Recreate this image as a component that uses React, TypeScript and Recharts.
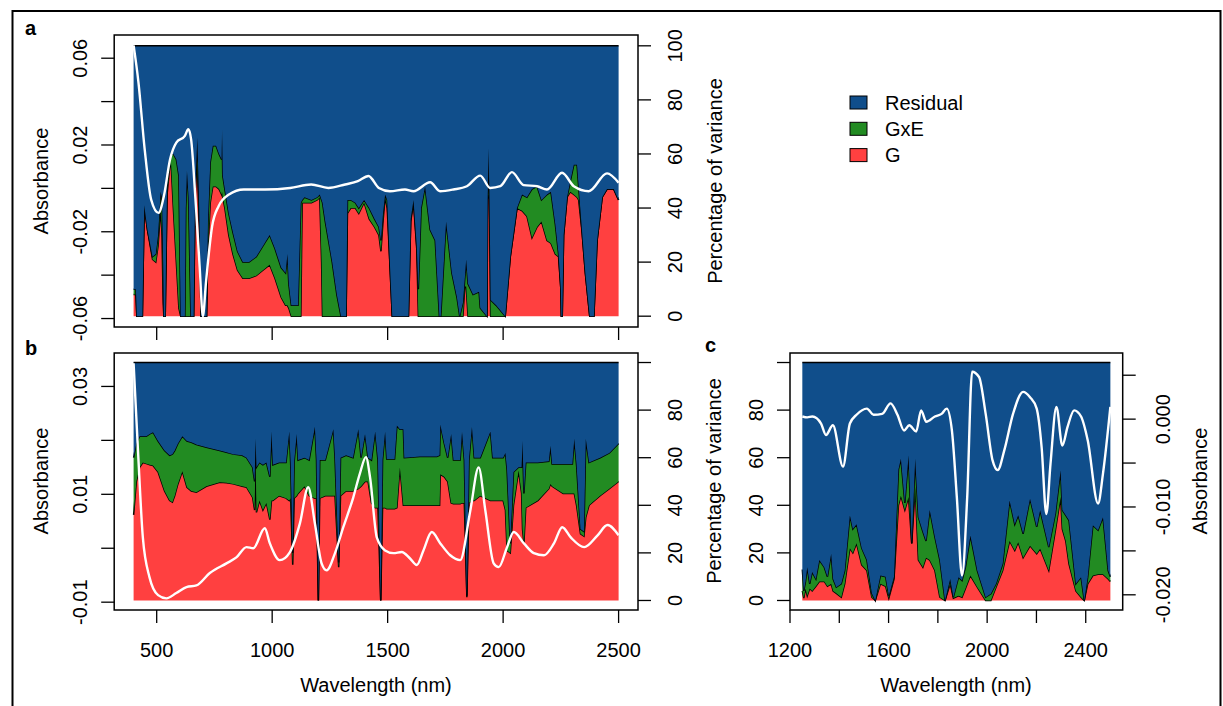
import { Area, ComposedChart, Line, ReferenceArea, XAxis, YAxis } from 'recharts';

const FONT = '"Liberation Sans", Arial, Helvetica, sans-serif';
const RED = '#FF4040';
const GREEN = '#228B22';
const BLUE = '#104E8B';

// ---- panel a: 400-2500 nm, variance partition (%) ----
const aWl = [
	400, 410, 414, 438, 446, 460, 482, 496, 506, 517,
	523, 528, 531, 537, 545, 556, 562, 572, 585, 596,
	604, 622, 626, 631, 638, 648, 660, 666, 673, 676,
	684, 692, 716, 722, 732, 743, 757, 770, 781, 783,
	786, 795, 812, 830, 850, 873, 900, 931, 960, 989,
	1012, 1039, 1058, 1066, 1072, 1083, 1112, 1124, 1130, 1140,
	1170, 1195, 1206, 1214, 1218, 1230, 1260, 1280, 1298, 1320,
	1326, 1340, 1360, 1375, 1398, 1420, 1443, 1462, 1471, 1480,
	1489, 1498, 1512, 1520, 1590, 1600, 1612, 1626, 1633, 1645,
	1662, 1684, 1706, 1724, 1730, 1753, 1778, 1800, 1812, 1826,
	1834, 1840, 1848, 1870, 1896, 1901, 1930, 1933, 1937, 1941,
	1946, 1970, 2009, 2031, 2060, 2082, 2103, 2125, 2147, 2166,
	2190, 2207, 2226, 2240, 2250, 2252, 2256, 2262, 2277, 2291,
	2306, 2320, 2327, 2342, 2356, 2375, 2393, 2407, 2429, 2450,
	2479, 2500,
];
const aG = [
	8, 8, 0, 0, 41, 32, 21, 20, 26, 40,
	30, 5, 0, 0, 45, 55, 57, 40, 20, 3,
	0, 0, 0, 0, 0, 0, 0, 40, 59, 55,
	35, 0, 0, 25, 42, 48, 48, 47, 45, 46,
	44, 40, 30, 23, 17, 14, 14, 15, 17, 19,
	14, 7, 4, 4, 3, 0, 0, 0, 42, 42,
	42, 43, 44, 20, 0, 0, 0, 0, 0, 0,
	38, 40, 40, 38, 42, 36, 33, 30, 24, 35,
	44, 40, 15, 0, 0, 35, 42, 25, 0, 0,
	0, 0, 0, 0, 0, 0, 0, 0, 0, 0,
	11, 11, 0, 0, 0, 0, 0, 43, 45, 44,
	0, 0, 0, 22, 40, 39, 37, 29, 33, 35,
	28, 27, 23, 22, 10, 0, 0, 30, 44, 46,
	45, 44, 43, 31, 16, 0, 0, 28, 44, 47,
	47, 43,
];
const aGxE = [
	2, 2, 0, 0, 0, 0, 1, 3, 4, 6,
	14, 15, 0, 0, 3, 3, 3, 20, 38, 49,
	0, 0, 40, 54, 44, 0, 0, 5, 1, 11,
	5, 0, 0, 10, 15, 15, 15, 13, 13, 23,
	8, 7, 8, 8, 7, 6, 6, 7, 9, 11,
	11, 11, 12, 19, 9, 4, 4, 42, 1, 2,
	1, 1, 1, 23, 42, 35, 20, 8, 0, 0,
	5, 3, 2, 2, 1, 4, 3, 3, 4, 3,
	1, 3, 0, 0, 0, 1, 1, 1, 10, 40,
	48, 32, 28, 0, 0, 35, 16, 7, 0, 5,
	3, 10, 12, 8, 9, 3, 0, 0, 17, 0,
	6, 4, 0, 0, 0, 6, 7, 18, 15, 8,
	17, 19, 11, 1, 0, 0, 0, 0, 0, 4,
	11, 12, 5, 0, 0, 0, 0, 0, 0, 0,
	0, 0,
];
const aAbsWl = [
	400, 421, 448, 476, 508, 531, 558, 585, 622, 637,
	649, 668, 686, 700, 713, 740, 768, 813, 877, 969,
	1078, 1169, 1243, 1316, 1371, 1417, 1462, 1510, 1575, 1612,
	1684, 1727, 1785, 1843, 1901, 1944, 1988, 2038, 2089, 2147,
	2190, 2255, 2306, 2371, 2450, 2500,
];
const aAbs = [
	0.0659, 0.0489, 0.018, -0.0052, -0.0113, -0.0036, 0.0134, 0.0211, 0.0242, 0.0273,
	0.0226, -0.0052, -0.036, -0.059, -0.0438, -0.0175, -0.0082, -0.0028, -0.0005, -0.0005,
	0.0002, 0.0018, 0.0002, 0.0018, 0.0033, 0.0057, 0.0002, -0.0013, -0.0005, -0.0013,
	0.0028, -0.0013, -0.0005, 0.001, 0.0059, 0.0002, 0.001, 0.0075, 0.0015, 0.001,
	-0.0005, 0.0072, 0.001, -0.0013, 0.0069, 0.0026,
];

// ---- panel b: 400-2500 nm ----
const bWl = [
	400, 412, 426, 440, 455, 470, 484, 506, 520, 534,
	556, 568, 578, 592, 611, 631, 650, 672, 715, 773,
	802, 831, 870, 889, 915, 924, 928, 932, 945, 960,
	975, 990, 997, 1003, 1030, 1060, 1074, 1080, 1089, 1095,
	1106, 1112, 1140, 1160, 1185, 1192, 1200, 1206, 1230, 1265,
	1272, 1288, 1296, 1320, 1350, 1373, 1385, 1402, 1415, 1430,
	1446, 1458, 1470, 1478, 1489, 1496, 1530, 1540, 1553, 1568,
	1572, 1640, 1713, 1725, 1728, 1745, 1760, 1775, 1785, 1814,
	1822, 1832, 1843, 1852, 1865, 1875, 1901, 1945, 1955, 2000,
	2010, 2017, 2031, 2045, 2067, 2080, 2084, 2090, 2098, 2150,
	2198, 2205, 2212, 2260, 2300, 2308, 2318, 2335, 2350, 2358,
	2372, 2420, 2460, 2500,
];
const bG = [
	36, 50, 56, 58, 57.5, 57, 56.7, 54, 50, 46,
	42, 41.3, 44, 49, 54.3, 47.6, 46, 45.5, 48, 49.7,
	49.5, 49, 48, 47.6, 43.4, 38, 62, 37, 42, 38,
	41, 34, 42, 42, 44, 43, 42, 43, 15, 43,
	44, 45, 48, 44, 43, 43, 0, 43, 44, 44,
	44, 14, 44, 46, 46, 47, 48, 50, 50, 41,
	39, 39, 0, 39, 39, 38.5, 38.5, 39, 56, 40,
	40, 40, 40, 40, 53, 52, 50, 41, 40.6, 40.6,
	41, 41, 1.4, 41, 42, 42, 44, 42, 42, 42,
	38, 21, 20, 40, 54.6, 45, 30, 24, 39, 42,
	47, 49, 48, 45, 45, 45, 40, 28, 27, 35,
	40, 44, 47, 50,
];
const bGxE = [
	24, 16, 13, 11, 11.5, 13, 14, 13, 15, 17,
	19, 20.2, 19, 17, 14.7, 19.4, 20.5, 20, 16.4, 13.3,
	12.8, 12.5, 13, 12.4, 12.6, 12, 6, 19, 16, 19,
	17, 18, 29, 15, 14, 15, 29, 15, 5, 15,
	26, 14, 12, 15, 30, 16, 0, 16, 15, 28,
	16, 2, 16, 15, 14, 25, 12, 20, 10, 18,
	32, 20, 0, 20, 32, 21, 21, 34.5, 16, 32,
	20, 20.5, 20.5, 21, 21, 14, 10, 29, 18.4, 18.4,
	30, 18, 0.6, 18, 31, 18, 16, 29, 18, 18,
	24, 34, 4, 14, 1.4, 11, 37, 21, 19, 16,
	11.5, 16, 9.4, 12.4, 12.4, 23, 17, 2, 2, 33,
	18, 16, 15, 16,
];
const bAbsWl = [
	400, 419, 440, 469, 506, 542, 585, 629, 672, 730,
	802, 845, 889, 918, 968, 990, 1033, 1077, 1120, 1156,
	1185, 1214, 1236, 1272, 1308, 1351, 1380, 1406, 1424, 1453,
	1489, 1525, 1561, 1597, 1626, 1655, 1691, 1728, 1771, 1814,
	1858, 1894, 1923, 1959, 1981, 2017, 2046, 2090, 2133, 2177,
	2220, 2256, 2293, 2351, 2409, 2452, 2500,
];
const bAbs = [
	0.0343, 0.0181, 0.002, -0.0054, -0.0087, -0.0093, -0.0083, -0.0072, -0.0069, -0.0046,
	-0.0028, -0.0017, 0.0002, 0, 0.0037, 0.0009, -0.0022, -0.0007, 0.0046, 0.0113,
	0.0046, -0.0028, -0.0041, -0.0009, 0.0039, 0.0094, 0.0139, 0.0169, 0.0131, 0.002,
	-0.0004, -0.0009, -0.0007, -0.0019, -0.0031, -0.0004, 0.003, 0.0009, -0.0013, -0.0022,
	0.007, 0.015, 0.007, -0.0028, -0.0035, 0.0002, 0.003, 0.0009, -0.0009, -0.0013,
	0.0009, 0.0039, 0.002, 0.0002, 0.0024, 0.0043, 0.0024,
];

// ---- panel c: 1250-2500 nm ----
const cWl = [
	1250, 1256, 1263, 1270, 1280, 1290, 1305, 1319, 1339, 1352,
	1367, 1375, 1388, 1408, 1422, 1443, 1455, 1470, 1491, 1512,
	1532, 1546, 1567, 1588, 1601, 1622, 1640, 1650, 1666, 1681,
	1694, 1708, 1721, 1739, 1752, 1767, 1788, 1808, 1829, 1850,
	1863, 1884, 1898, 1912, 1932, 1960, 1994, 2015, 2036, 2063,
	2091, 2112, 2126, 2146, 2174, 2201, 2215, 2250, 2277, 2298,
	2305, 2319, 2332, 2360, 2381, 2394, 2408, 2429, 2450, 2470,
	2491, 2500,
];
const cG = [
	4, 1, 5, 2, 5, 4, 6, 8, 8, 6,
	7, 4, 3, 1.4, 7, 22, 20, 24, 15, 12.6,
	1.4, 0, 7, 6, 1, 9, 40, 44, 38, 43.5,
	24, 47.7, 17, 14, 18, 17, 12.6, 1.4, 0, 7,
	1, 2, 1.4, 5, 10.5, 5.6, 0, 0, 5.6, 12.6,
	25, 21, 24.5, 18, 23, 19.6, 21.7, 12.6, 29.5, 43.5,
	30, 25, 15.4, 4, 1.4, 0, 7, 10.5, 11, 11,
	9, 8,
];
const cGxE = [
	9, 3, 3, 12, 2, 8, 3, 9, 6, 4,
	12.6, 5, 2.6, 5.6, 5.6, 13.8, 10, 8, 7, 4.4,
	1.6, 0, 3.5, 4, 1, 1, 15, 15.6, 3, 17.5,
	0, 11.9, 18, 15, 7, 21, 14, 15.6, 0, 2,
	0.4, 7.8, 7, 9, 16.8, 7, 1.4, 2.8, 1.4, 2.8,
	17, 11, 11.3, 10, 19.8, 11.3, 16.2, 9.8, 7, 11.2,
	8, 10.8, 18.3, 3, 8.4, 0, 2.8, 21.1, 18.5, 24,
	3.6, 2,
];
const cAbsWl = [
	1250, 1270, 1291, 1326, 1346, 1374, 1415, 1443, 1470, 1512,
	1539, 1574, 1608, 1636, 1663, 1684, 1712, 1732, 1753, 1788,
	1815, 1836, 1857, 1877, 1898, 1919, 1939, 1967, 1994, 2022,
	2043, 2070, 2105, 2146, 2174, 2201, 2221, 2240, 2257, 2281,
	2305, 2326, 2353, 2381, 2408, 2450, 2470, 2500,
];
const cAbs = [
	0.0003, 0.0002, 0.0003, -0.0005, -0.0018, -0.0007, -0.0054, -0.0005, 0.0005, 0.0012,
	0.0005, 0.0006, 0.0018, 0.0005, -0.0013, -0.0007, -0.0014, 0.001, -0.0003, 0.0003,
	0.0006, 0.0012, -0.0013, -0.0089, -0.0178, -0.0089, 0.0054, 0.0048, 0.0006, -0.0047,
	-0.0058, -0.0035, 0.0006, 0.0031, 0.0025, 0.0012, -0.0032, -0.0108, -0.0051, 0.0014,
	-0.003, -0.0009, 0.001, 0.0003, -0.0024, -0.0096, -0.0062, 0.0014,
];

const pctTicks = [0, 20, 40, 60, 80, 100];
const wideTicks = [500, 1000, 1500, 2000, 2500];
const swirTicks = [1200, 1400, 1600, 1800, 2000, 2200, 2400];
const swirLabels = [1200, 1600, 2000, 2400];

const LEGEND = [
	{ name: 'Residual', color: BLUE },
	{ name: 'GxE', color: GREEN },
	{ name: 'G', color: RED },
];

// residual is whatever G and GxE leave of the 100 %
const toRows = (wl: number[], g: number[], gxe: number[]) =>
	wl.map((w, i) => ({ wl: w, G: g[i], GxE: gxe[i], Residual: 100 - g[i] - gxe[i] }));
const toAbs = (wl: number[], abs: number[]) => wl.map((w, i) => ({ wl: w, abs: abs[i] }));

const has = (list: number[], v: number) => list.some((l) => Math.abs(l - v) < 1e-9);

// R draws y labels parallel to the axis (rotated)
const vTick = (labels: number[], digits: number, dx: number) => (p: any) => {
	const v = p.payload.value;
	if (!has(labels, v)) return <g />;
	const x = p.x + dx;
	return (
		<text x={x} y={p.y} transform={`rotate(-90 ${x} ${p.y})`} textAnchor="middle" fontSize={20} fontFamily={FONT} fill="#000">
			{v.toFixed(digits)}
		</text>
	);
};

const hTick = (labels: number[]) => (p: any) => {
	const v = p.payload.value;
	if (!has(labels, v)) return <g />;
	return (
		<text x={p.x} y={p.y + 34} textAnchor="middle" fontSize={20} fontFamily={FONT} fill="#000">
			{v}
		</text>
	);
};

type PanelProps = {
	rows: ReturnType<typeof toRows>;
	absRows: ReturnType<typeof toAbs>;
	left: number;
	top: number;
	width: number;
	height: number;
	margin: { top: number; right: number; bottom: number; left: number };
	leftW: number;
	rightW: number;
	xH: number;
	xDomain: [number, number];
	xTicks: number[];
	xLabels: number[];
	absSide: 'left' | 'right';
	absDomain: [number, number];
	absTicks: number[];
	absLabels: number[];
	absDigits: number;
	pctLabels: number[];
	leftDx: number;
	rightDx: number;
};

const tickLine = { stroke: '#000', strokeWidth: 1.3 };

const Panel = (p: PanelProps) => {
	const absLeft = p.absSide === 'left';
	return (
		<div style={{ position: 'absolute', left: p.left, top: p.top }}>
			<ComposedChart width={p.width} height={p.height} data={p.rows} margin={p.margin}>
				<XAxis
					dataKey="wl"
					type="number"
					domain={p.xDomain}
					ticks={p.xTicks}
					interval={0}
					allowDataOverflow
					axisLine={false}
					tickLine={tickLine}
					tickSize={13}
					tickMargin={0}
					height={p.xH}
					tick={hTick(p.xLabels)}
				/>
				<YAxis
					yAxisId={absLeft ? 'abs' : 'pct'}
					orientation="left"
					type="number"
					width={p.leftW}
					domain={absLeft ? p.absDomain : [-4, 104]}
					ticks={absLeft ? p.absTicks : pctTicks}
					interval={0}
					allowDataOverflow
					axisLine={false}
					tickLine={tickLine}
					tickSize={13}
					tickMargin={0}
					tick={absLeft ? vTick(p.absLabels, p.absDigits, p.leftDx) : vTick(p.pctLabels, 0, p.leftDx)}
				/>
				<YAxis
					yAxisId={absLeft ? 'pct' : 'abs'}
					orientation="right"
					type="number"
					width={p.rightW}
					domain={absLeft ? [-4, 104] : p.absDomain}
					ticks={absLeft ? pctTicks : p.absTicks}
					interval={0}
					allowDataOverflow
					axisLine={false}
					tickLine={tickLine}
					tickSize={13}
					tickMargin={0}
					tick={absLeft ? vTick(p.pctLabels, 0, p.rightDx) : vTick(p.absLabels, p.absDigits, p.rightDx)}
				/>
				<Area yAxisId="pct" dataKey="G" stackId="v" type="linear" fill={RED} fillOpacity={1} stroke="#000" strokeWidth={1.5} isAnimationActive={false} />
				<Area yAxisId="pct" dataKey="GxE" stackId="v" type="linear" fill={GREEN} fillOpacity={1} stroke="#000" strokeWidth={1.5} isAnimationActive={false} />
				<Area yAxisId="pct" dataKey="Residual" stackId="v" type="linear" fill={BLUE} fillOpacity={1} stroke="#000" strokeWidth={1.5} isAnimationActive={false} />
				<Line yAxisId="abs" data={p.absRows} dataKey="abs" type="monotone" stroke="#fff" strokeWidth={2.4} dot={false} activeDot={false} isAnimationActive={false} />
				<ReferenceArea yAxisId="pct" x1={p.xDomain[0]} x2={p.xDomain[1]} y1={-4} y2={104} fill="none" stroke="#000" strokeWidth={1.5} ifOverflow="visible" />
			</ComposedChart>
		</div>
	);
};

const VTitle = ({ x, y, children }: { x: number; y: number; children: string }) => (
	<text x={x} y={y} transform={`rotate(-90 ${x} ${y})`} textAnchor="middle" fontSize={20} fontFamily={FONT}>
		{children}
	</text>
);

export default function App() {
	return (
		<div style={{ position: 'absolute', left: 0, top: 0, width: 1223, height: 706, background: '#fff', overflow: 'hidden' }}>
			<Panel
				rows={toRows(aWl, aG, aGxE)}
				absRows={toAbs(aAbsWl, aAbs)}
				left={14}
				top={14}
				width={684}
				height={330}
				margin={{ top: 21, right: 0, bottom: 3, left: 0 }}
				leftW={100.2}
				rightW={60}
				xH={14}
				xDomain={[316, 2584]}
				xTicks={wideTicks}
				xLabels={[]}
				absSide="left"
				absDomain={[-0.0639, 0.0707]}
				absTicks={[-0.06, -0.04, -0.02, 0, 0.02, 0.04, 0.06]}
				absLabels={[-0.06, -0.02, 0.02, 0.06]}
				absDigits={2}
				pctLabels={pctTicks}
				leftDx={-14}
				rightDx={31}
			/>
			<Panel
				rows={toRows(bWl, bG, bGxE)}
				absRows={toAbs(bAbsWl, bAbs)}
				left={14}
				top={340}
				width={684}
				height={366}
				margin={{ top: 13, right: 0, bottom: 46, left: 0 }}
				leftW={100.2}
				rightW={60}
				xH={50}
				xDomain={[316, 2584]}
				xTicks={wideTicks}
				xLabels={wideTicks}
				absSide="left"
				absDomain={[-0.01145, 0.0362]}
				absTicks={[-0.01, 0, 0.01, 0.02, 0.03]}
				absLabels={[-0.01, 0.01, 0.03]}
				absDigits={2}
				pctLabels={[0, 20, 40, 60, 80]}
				leftDx={-14}
				rightDx={31}
			/>
			<Panel
				rows={toRows(cWl, cG, cGxE)}
				absRows={toAbs(cAbsWl, cAbs)}
				left={700}
				top={340}
				width={523}
				height={366}
				margin={{ top: 13, right: 40.3, bottom: 46, left: 0 }}
				leftW={90}
				rightW={60}
				xH={50}
				xDomain={[1200, 2550]}
				xTicks={swirTicks}
				xLabels={swirLabels}
				absSide="right"
				absDomain={[-0.02173, 0.00753]}
				absTicks={[-0.02, -0.015, -0.01, -0.005, 0, 0.005]}
				absLabels={[-0.02, -0.01, 0]}
				absDigits={3}
				pctLabels={[0, 20, 40, 60, 80]}
				leftDx={-14}
				rightDx={34}
			/>
			<svg width={1223} height={706} style={{ position: 'absolute', left: 0, top: 0, pointerEvents: 'none' }}>
				<path d="M12.5 720 V11 H1220.5 V720" fill="none" stroke="#000" strokeWidth={2} />
				<text x={25} y={35} fontSize={20} fontWeight="bold" fontFamily={FONT}>a</text>
				<text x={25} y={355} fontSize={20} fontWeight="bold" fontFamily={FONT}>b</text>
				<text x={705} y={352} fontSize={20} fontWeight="bold" fontFamily={FONT}>c</text>
				<VTitle x={48} y={181}>Absorbance</VTitle>
				<VTitle x={722} y={181}>Percentage of variance</VTitle>
				<VTitle x={48} y={481}>Absorbance</VTitle>
				<VTitle x={721} y={481}>Percentage of variance</VTitle>
				<VTitle x={1207} y={481}>Absorbance</VTitle>
				<text x={376} y={692} textAnchor="middle" fontSize={20} fontFamily={FONT}>Wavelength (nm)</text>
				<text x={956} y={692} textAnchor="middle" fontSize={20} fontFamily={FONT}>Wavelength (nm)</text>
				{LEGEND.map((l, i) => (
					<g key={l.name}>
						<rect x={850} y={96 + i * 26.3} width={17} height={13} fill={l.color} stroke="#000" strokeWidth={1} />
						<text x={885} y={109.5 + i * 26.3} fontSize={20} fontFamily={FONT}>{l.name}</text>
					</g>
				))}
			</svg>
		</div>
	);
}
